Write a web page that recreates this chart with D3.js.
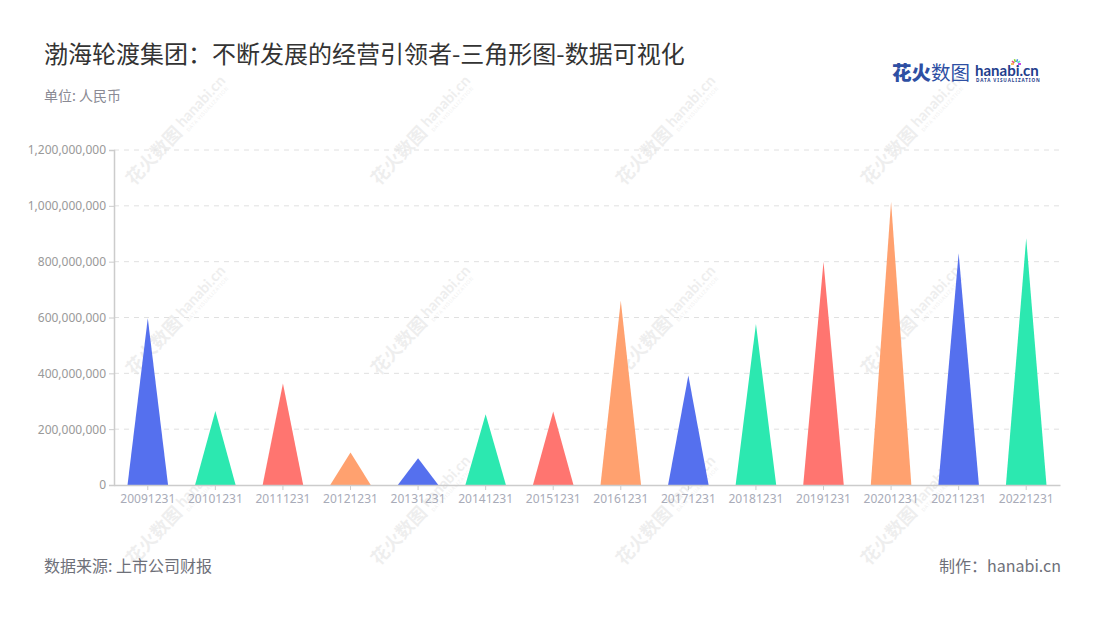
<!DOCTYPE html>
<html>
<head>
<meta charset="utf-8">
<script src="https://cdn.jsdelivr.net/npm/d3@7/dist/d3.min.js"></script>
<style>
html,body{margin:0;padding:0;background:#fff;}
svg{display:block;font-family:"Noto Sans CJK SC","Noto Sans",sans-serif;}
</style>
</head>
<body>
<svg id="chart" width="1100" height="620"></svg>
<script>
const categories = ["20091231","20101231","20111231","20121231","20131231","20141231","20151231","20161231","20171231","20181231","20191231","20201231","20211231","20221231"];
const values = [597e6, 265e6, 364e6, 116e6, 96e6, 253e6, 263e6, 660e6, 392e6, 577e6, 800e6, 1015e6, 830e6, 884e6];
const yTicks = [0, 2e8, 4e8, 6e8, 8e8, 10e8, 12e8];
const palette = ["#5570EE", "#2CE8B0", "#FF7570", "#FFA16F"];

const svg = d3.select("#chart");
const W = 1100, H = 620;
const m = {left: 114, right: 40, top: 150, bottom: 135};

const x = d3.scaleBand().domain(categories).range([m.left, W - m.right]).padding(0);
const y = d3.scaleLinear().domain([0, 12e8]).range([H - m.bottom, m.top]);

// watermarks
const wmG = svg.append("g").attr("class", "watermarks");
const wmX = [180, 425, 670, 915];
const wmY = [128, 318, 508];
wmY.forEach(cy => wmX.forEach(cx => {
  const g = wmG.append("g").attr("transform", `translate(${cx},${cy}) rotate(-47)`).attr("opacity", 0.08);
  g.append("text").attr("x", -74).attr("y", 6).attr("font-size", 18).attr("font-weight", 700).attr("fill", "#333").text("花火数图");
  g.append("text").attr("x", 2).attr("y", 2).attr("font-size", 15).attr("font-weight", 700).attr("fill", "#333").attr("font-family", "Lato, sans-serif").text("hanabi.cn");
  g.append("text").attr("x", 3).attr("y", 9).attr("font-size", 5).attr("fill", "#333").attr("letter-spacing", 0.6).text("DATA VISUALIZATION");
}));

// grid lines
svg.append("g").selectAll("line").data(yTicks.filter(d => d > 0)).join("line")
  .attr("x1", m.left).attr("x2", W - m.right)
  .attr("y1", d => y(d)).attr("y2", d => y(d))
  .attr("stroke", "#e0e0e0").attr("stroke-dasharray", "5,5");

// y axis
const yAxis = svg.append("g").attr("transform", `translate(${m.left},0)`)
  .call(d3.axisLeft(y).tickValues(yTicks).tickSize(5).tickPadding(3).tickFormat(d3.format(",")));
yAxis.select(".domain").attr("stroke", "#ccc").attr("stroke-width", 1.5);
yAxis.selectAll(".tick line").attr("stroke", "#ccc");
yAxis.selectAll(".tick text").attr("fill", "#999").attr("font-size", 12).attr("font-family", "'Noto Sans', sans-serif");

// triangles
const tri = d => {
  const cx = x(d.c) + x.bandwidth() / 2;
  const hw = x.bandwidth() * 0.3;
  const y0 = y(0), y1 = y(d.v);
  return `M${cx - hw},${y0}L${cx},${y1}L${cx + hw},${y0}Z`;
};
svg.append("g").selectAll("path").data(categories.map((c, i) => ({c, v: values[i], i}))).join("path")
  .attr("d", tri).attr("fill", d => palette[d.i % palette.length]);

// x axis
const xAxis = svg.append("g").attr("transform", `translate(0,${y(0)})`)
  .call(d3.axisBottom(x).tickSize(5).tickPadding(4).tickSizeOuter(0));
xAxis.select(".domain").attr("stroke", "#ccc").attr("stroke-width", 1.5);
xAxis.selectAll(".tick line").attr("stroke", "#ccc");
xAxis.selectAll(".tick text").attr("fill", "#a8abb8").attr("font-size", 12).attr("font-family", "'Noto Sans', sans-serif");

// title
svg.append("text").attr("x", 44).attr("y", 63).attr("font-size", 24).attr("fill", "#333")
  .text("渤海轮渡集团：不断发展的经营引领者-三角形图-数据可视化");
svg.append("text").attr("x", 44).attr("y", 101).attr("font-size", 14).attr("fill", "#8a8a94").text("单位: 人民币");

// footer
svg.append("text").attr("x", 44).attr("y", 572).attr("font-size", 16).attr("fill", "#6e7079").text("数据来源: 上市公司财报");
svg.append("text").attr("x", 1061).attr("y", 572).attr("font-size", 16).attr("fill", "#6e7079").attr("text-anchor", "end").text("制作：hanabi.cn");

// logo
const logo = svg.append("g");
logo.append("text").attr("x", 892).attr("y", 80).attr("font-size", 19.5).attr("fill", "#2E4FA3")
  .call(t => { t.append("tspan").attr("font-weight", 900).text("花火"); t.append("tspan").attr("font-weight", 400).text("数图"); });
logo.append("text").attr("x", 975).attr("y", 76).attr("font-size", 15).attr("font-weight", 700).attr("fill", "#1F3E8C").attr("font-family", "Lato, sans-serif").text("hanabi.cn");
logo.append("text").attr("x", 976).attr("y", 82).attr("font-size", 4.6).attr("font-weight", 700).attr("fill", "#1F3E8C").attr("letter-spacing", 0.9).attr("font-family", "'Noto Sans', sans-serif").text("DATA VISUALIZATION");
const spark = ["#f5a623", "#e94e77", "#7ed321", "#4a90e2", "#50e3c2", "#bd10e0"];
spark.forEach((c, i) => {
  const a = -Math.PI + i * Math.PI / 5;
  logo.append("line").attr("x1", 1016 + Math.cos(a) * 2).attr("y1", 64 + Math.sin(a) * 2)
    .attr("x2", 1016 + Math.cos(a) * 5).attr("y2", 64 + Math.sin(a) * 5)
    .attr("stroke", c).attr("stroke-width", 1.5);
});
</script>
</body>
</html>
